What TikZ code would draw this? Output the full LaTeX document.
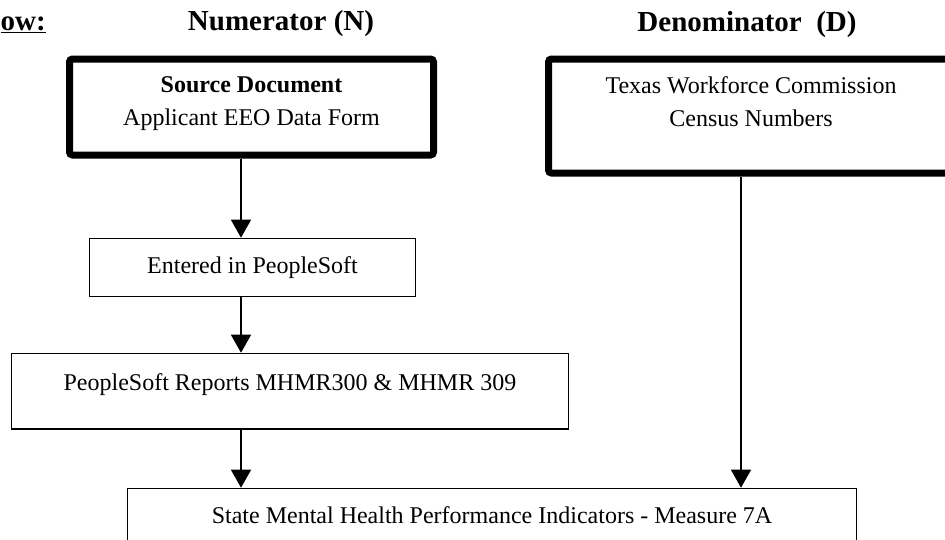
\documentclass[tikz,border=0pt]{standalone}
\usepackage{fontspec}
\setmainfont{Liberation Serif}
\usetikzlibrary{positioning,arrows.meta,calc}
\tikzset{
  thickbox/.style={draw, line width=7pt, rounded corners=3pt, inner sep=0pt,
    font=\fontsize{24pt}{33pt}\selectfont, anchor=north},
  thinbox/.style={draw, line width=1.4pt, inner sep=0pt,
    font=\fontsize{24pt}{33pt}\selectfont, anchor=north},
  arr/.style={-{Triangle[length=18pt,width=20pt]}, line width=1.5pt},
  head/.style={font=\fontsize{29pt}{33pt}\selectfont\bfseries, inner sep=0pt},
}

\begin{document}
\begin{tikzpicture}[x=1pt, y=-1pt]
  \useasboundingbox (0,0) rectangle (945,539);
  \clip (0,0) rectangle (945,539);

  % headings
  \node[head, anchor=base west] (flow) at (0.5,30) {\underline{ow:}};
  \node[head, anchor=base] (num) at (281,30) {Numerator (N)};
  \node[head, anchor=base] (den) at (747,31) {Denominator\ \ (D)};

  % numerator column
  \node[thickbox, minimum width=364pt, text height=33.5pt, text depth=62.5pt] (src) at (251.5,55.5)
    {\begin{tabular}[t]{@{}c@{}}\textbf{Source Document}\\Applicant EEO Data Form\end{tabular}};
  \node[thinbox, minimum width=325.6pt, text height=35.3pt, text depth=22.7pt] (ent) at (252.5,237.7)
    {Entered in PeopleSoft};
  \node[thinbox, minimum width=556.6pt, text height=37.3pt, text depth=38.3pt] (rep) at (290,352.7)
    {PeopleSoft Reports MHMR300 \& MHMR 309};

  % denominator column
  \node[thickbox, minimum width=405pt, text height=34.5pt, text depth=79.5pt] (twc) at (751,55.5)
    {\begin{tabular}[t]{@{}c@{}}Texas Workforce Commission\\Census Numbers\end{tabular}};

  % result
  \node[thinbox, minimum width=728.6pt, text height=35.3pt, text depth=60pt] (smh) at (492,487.7)
    {State Mental Health Performance Indicators - Measure 7A};

  \coordinate (ncol) at (241,0);
  \coordinate (dcol) at (741,0);
  \draw[arr] (src.south -| ncol) -- (ent.north -| ncol);
  \draw[arr] (ent.south -| ncol) -- (rep.north -| ncol);
  \draw[arr] (rep.south -| ncol) -- (smh.north -| ncol);
  \draw[arr] (twc.south -| dcol) -- (smh.north -| dcol);
\end{tikzpicture}
\end{document}
